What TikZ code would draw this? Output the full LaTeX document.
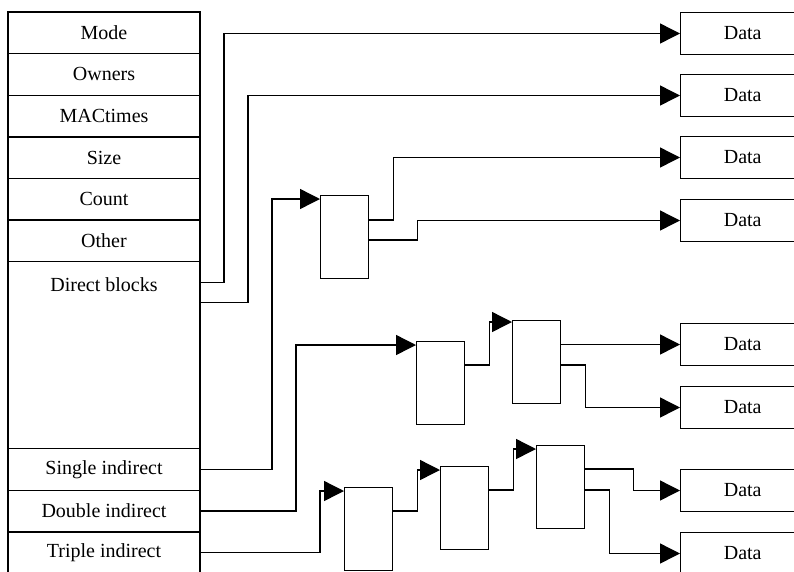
\documentclass[tikz,border=0pt]{standalone}
\usepackage{fontspec}
\setmainfont{Liberation Serif}
\usetikzlibrary{positioning,arrows.meta}

\begin{document}
\begin{tikzpicture}[
    x=1pt, y=-1pt,
    node distance=0pt,
    field/.style={draw, line width=1.4pt, minimum width=192pt, minimum height=41.6pt,
                  inner sep=0pt, outer sep=0pt, font=\fontsize{20}{24}\selectfont},
    blk/.style={draw, line width=1.4pt, minimum width=48pt, minimum height=83pt,
                inner sep=0pt, anchor=north west},
    databox/.style={draw, line width=1.4pt, minimum width=124pt, minimum height=41.6pt,
                    inner sep=0pt, anchor=north west, font=\fontsize{20}{24}\selectfont},
    arr/.style={-{Triangle[length=20pt, width=20pt]}, line width=1.4pt},
  ]
  \useasboundingbox (0,0) rectangle (794,571);

  % inode fields (LEFT column, stacked)
  \node[field, anchor=north west] (mode) at (8,12) {Mode};
  \node[field, below=of mode]     (own)  {Owners};
  \node[field, below=of own]      (mac)  {MACtimes};
  \node[field, below=of mac]      (size) {Size};
  \node[field, below=of size]     (cnt)  {Count};
  \node[field, below=of cnt]      (oth)  {Other};
  \node[field, below=of oth, minimum height=187pt,
        label={[anchor=center, yshift=-23pt, font=\fontsize{20}{24}\selectfont]north:Direct blocks}]
                                  (dir)  {};
  \node[field, below=of dir]      (sgl)  {Single indirect};
  \node[field, below=of sgl]      (dbl)  {Double indirect};
  \node[field, below=of dbl]      (tpl)  {Triple indirect};

  % indirect blocks
  \node[blk] (ind1)  at (320,195) {};
  \node[blk] (ind2a) at (416,341) {};
  \node[blk] (ind2b) at (512,320) {};
  \node[blk] (ind3a) at (344,487) {};
  \node[blk] (ind3b) at (440,466) {};
  \node[blk] (ind3c) at (536,445) {};

  % data blocks (RIGHT column)
  \node[databox] (data1) at (680,12)  {Data};
  \node[databox] (data2) at (680,74)  {Data};
  \node[databox] (data3) at (680,136) {Data};
  \node[databox] (data4) at (680,199) {Data};
  \node[databox] (data5) at (680,323) {Data};
  \node[databox] (data6) at (680,386) {Data};
  \node[databox] (data7) at (680,469) {Data};
  \node[databox] (data8) at (680,532) {Data};

  % direct pointers
  \draw[arr] ([yshift=-21pt]dir.north east) -- ++(24,0) |- (data1.west);
  \draw[arr] ([yshift=-41pt]dir.north east) -- ++(48,0) |- (data2.west);
  % single indirect
  \draw[arr] (sgl.east) -- ++(72,0) |- ([yshift=-4pt]ind1.north west);
  \draw[arr] ([yshift=-25pt]ind1.north east) -- ++(24,0) |- (data3.west);
  \draw[arr] ([yshift=-45pt]ind1.north east) -- ++(48,0) |- (data4.west);
  % double indirect
  \draw[arr] (dbl.east) -- ++(96,0) |- ([yshift=-4pt]ind2a.north west);
  \draw[arr] ([yshift=-24pt]ind2a.north east) -- ++(24,0) |- ([yshift=-2pt]ind2b.north west);
  \draw[arr] (data5.west -| ind2b.east) -- (data5.west);
  \draw[arr] ([yshift=-45pt]ind2b.north east) -- ++(24,0) |- (data6.west);
  % triple indirect
  \draw[arr] (tpl.east) -- ++(120,0) |- ([yshift=-4pt]ind3a.north west);
  \draw[arr] ([yshift=-24pt]ind3a.north east) -- ++(24,0) |- ([yshift=-4pt]ind3b.north west);
  \draw[arr] ([yshift=-24pt]ind3b.north east) -- ++(24,0) |- ([yshift=-4pt]ind3c.north west);
  \draw[arr] ([yshift=-24pt]ind3c.north east) -- ++(48,0) |- (data7.west);
  \draw[arr] ([yshift=-45pt]ind3c.north east) -- ++(24,0) |- (data8.west);
\end{tikzpicture}
\end{document}
